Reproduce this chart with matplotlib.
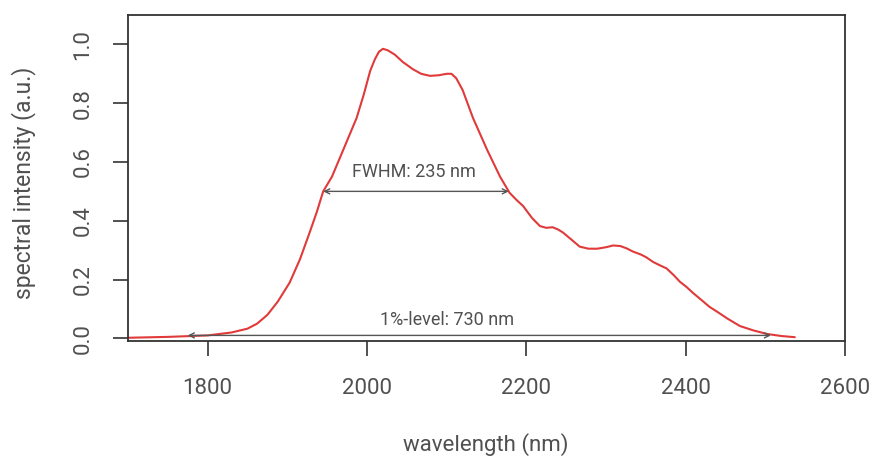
import numpy as np
import matplotlib
matplotlib.use("Agg")
import matplotlib.pyplot as plt

# spectrum (nm, a.u.)
wavelength = [1700, 1750, 1800, 1830, 1850, 1862, 1875, 1888, 1903, 1916,
              1928, 1937, 1945, 1956, 1970, 1987, 1996, 2004, 2010, 2015,
              2020, 2026, 2035, 2045, 2058, 2068, 2079, 2090, 2100, 2106,
              2112, 2120, 2133, 2151, 2167, 2179, 2188, 2196, 2207, 2217,
              2225, 2233, 2240, 2246, 2257, 2267, 2278, 2289, 2300, 2309,
              2318, 2326, 2334, 2344, 2351, 2359, 2368, 2376, 2385, 2393,
              2401, 2409, 2420, 2430, 2441, 2452, 2468, 2485, 2502, 2520, 2537]
intensity = [0.002, 0.005, 0.010, 0.020, 0.033, 0.050, 0.080, 0.125, 0.190, 0.270,
             0.360, 0.430, 0.500, 0.550, 0.640, 0.750, 0.830, 0.910, 0.950, 0.975,
             0.985, 0.980, 0.965, 0.940, 0.915, 0.900, 0.893, 0.895, 0.900, 0.900,
             0.885, 0.845, 0.750, 0.640, 0.550, 0.495, 0.470, 0.450, 0.410, 0.382,
             0.376, 0.378, 0.370, 0.360, 0.335, 0.312, 0.305, 0.305, 0.310, 0.316,
             0.314, 0.306, 0.295, 0.285, 0.275, 0.260, 0.248, 0.238, 0.215, 0.192,
             0.175, 0.155, 0.130, 0.107, 0.088, 0.068, 0.042, 0.027, 0.015, 0.008, 0.004]

# annotation arrows
fwhm_range = [1945, 2178]
fwhm_level = 0.5
fwhm_text = "FWHM: 235 nm"
one_pct_range = [1775, 2507]
one_pct_level = 0.01
one_pct_text = "1%-level: 730 nm"

x_ticks = [1800, 2000, 2200, 2400, 2600]
y_ticks = [0.0, 0.2, 0.4, 0.6, 0.8, 1.0]

plt.rcParams["font.family"] = ["Roboto", "DejaVu Sans"]
TEXT = "#505050"
AXC = "#333333"

fig = plt.figure(figsize=(8.73, 4.59), dpi=100)
ax = fig.add_axes([128/873, 118/459, (845-128)/873, (341-15)/459])

ax.plot(wavelength, intensity, color="#e03a3a", lw=1.5, zorder=2,
        solid_joinstyle="round", solid_capstyle="round")

arrow_kw = dict(arrowstyle="<->", color="#555555", lw=1.0, shrinkA=0, shrinkB=0,
                mutation_scale=9)
ax.annotate("", xy=(fwhm_range[0], fwhm_level), xytext=(fwhm_range[1], fwhm_level),
            arrowprops=arrow_kw, zorder=3)
ax.text(np.mean(fwhm_range) - 2, fwhm_level + 0.066, fwhm_text, ha="center",
        va="center", fontsize=13, color=TEXT)
ax.annotate("", xy=(one_pct_range[0], one_pct_level), xytext=(one_pct_range[1], one_pct_level),
            arrowprops=arrow_kw, zorder=3)
ax.text(2100, 0.064, one_pct_text, ha="center", va="center", fontsize=13, color=TEXT)

ax.set_xlim(1700, 2600)
ax.set_ylim(-0.009, 1.100)
ax.set_xticks(x_ticks)
ax.set_yticks(y_ticks)
ax.set_xticklabels([str(t) for t in x_ticks])
ax.set_yticklabels([f"{t:.1f}" for t in y_ticks], rotation=90, va="center")

for s in ax.spines.values():
    s.set_color(AXC)
    s.set_linewidth(1.3)
ax.tick_params(axis="both", direction="out", length=11, width=1.2, color=AXC,
               labelcolor=TEXT, labelsize=16)
ax.tick_params(axis="x", pad=16)
ax.tick_params(axis="y", pad=14)

fig.text(486/873, 1 - 445/459, "wavelength (nm)", ha="center", va="center",
         fontsize=16, color=TEXT)
fig.text(24/873, 1 - 183/459, "spectral intensity (a.u.)", ha="center", va="center",
         rotation=90, fontsize=16.5, color=TEXT)

fig.savefig("out.png", dpi=100)
